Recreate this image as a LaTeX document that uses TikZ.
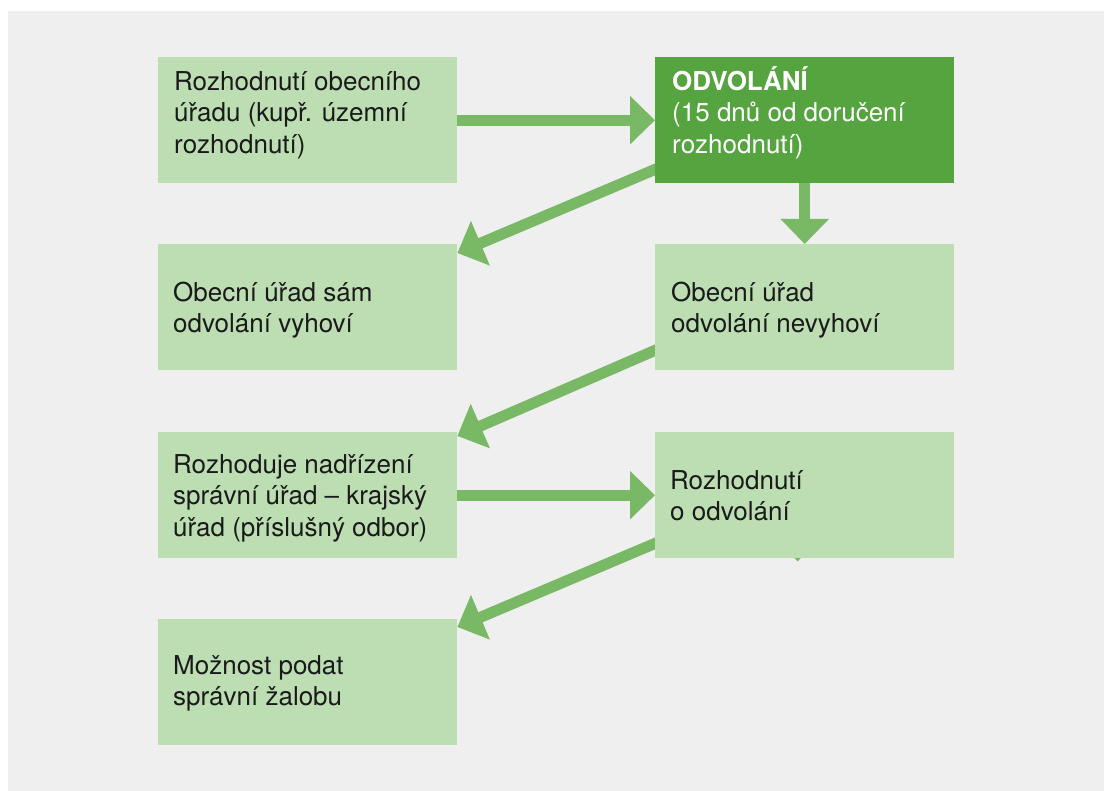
\documentclass[tikz,border=0pt]{standalone}
\usepackage{fontspec}
\setmainfont{TeX Gyre Heros}
\usetikzlibrary{arrows.meta,calc,backgrounds}
\definecolor{bggray}{HTML}{EFEFEF}
\definecolor{boxlight}{HTML}{BCDEB2}
\definecolor{boxdark}{HTML}{55A440}
\definecolor{arrowgreen}{HTML}{79B865}
\definecolor{textdark}{HTML}{1A1A1A}
% fixed height of the first text line, so that anchor north = baseline - 26pt
\newcommand{\firstline}{\rule{0pt}{26pt}}

\begin{document}
\begin{tikzpicture}[x=1pt,y=-1pt,
  box/.style={fill=boxlight, draw=none, minimum width=299pt, minimum height=126pt,
              inner sep=0pt, anchor=north west},
  darkbox/.style={box, fill=boxdark},
  boxtext/.style={anchor=north west, inner sep=0pt, align=left,
                  font=\fontsize{26}{31.5}\selectfont, text=textdark},
  flow/.style={draw=arrowgreen, line width=11pt,
               -{Triangle[length=25pt,width=47pt]}}]

\useasboundingbox (0,0) rectangle (1104,791);

% boxes
\node[box]     (a) at (158,57)  {};
\node[darkbox] (b) at (655,57)  {};
\node[box]     (c) at (158,244) {};
\node[box]     (d) at (655,244) {};
\node[box]     (e) at (158,432) {};
\node[box]     (f) at (655,432) {};
\node[box]     (g) at (158,619) {};

% box texts (offset = first baseline - 26pt)
\node[boxtext] (ta) at ($(a.north west)+(16,7)$)
  {\firstline Rozhodnutí obecního\\úřadu (kupř. územní\\rozhodnutí)};
\node[boxtext, text=white] (tb) at ($(b.north west)+(17,7)$)
  {\firstline\textbf{ODVOLÁNÍ}\\(15 dnů od doručení\\rozhodnutí)};
\node[boxtext] (tc) at ($(c.north west)+(15,31)$)
  {\firstline Obecní úřad sám\\odvolání vyhoví};
\node[boxtext] (td) at ($(d.north west)+(16,31)$)
  {\firstline Obecní úřad\\odvolání nevyhoví};
\node[boxtext] (te) at ($(e.north west)+(15,15)$)
  {\firstline Rozhoduje nadřízení\\správní úřad – krajský\\úřad (příslušný odbor)};
\node[boxtext] (tf) at ($(f.north west)+(15,31)$)
  {\firstline Rozhodnutí\\o odvolání};
\node[boxtext] (tg) at ($(g.north west)+(15,29)$)
  {\firstline Možnost podat\\správní žalobu};

% background and connectors behind the boxes
\begin{scope}[on background layer]
  \fill[bggray] (8,11) rectangle (1104,791);
  \draw[flow] (a.east) -- (b.west);
  \draw[flow] (b.south) -- (d.north);
  \draw[flow] ($(b.south west)+(45,-33)$) -- ($(c.north east)+(0,9)$);
  \draw[flow] ($(d.south west)+(45,-39.5)$) -- ($(e.north east)+(0,4)$);
  \draw[flow] (e.east) -- (f.west);
  \draw[flow] ($(f.south west)+(45,-34)$) -- ($(g.north east)+(0,8)$);
  \draw[flow] ($(f.south)+(-7,-30)$) -- ($(f.south)+(-7,3)$);
\end{scope}
\end{tikzpicture}
\end{document}
